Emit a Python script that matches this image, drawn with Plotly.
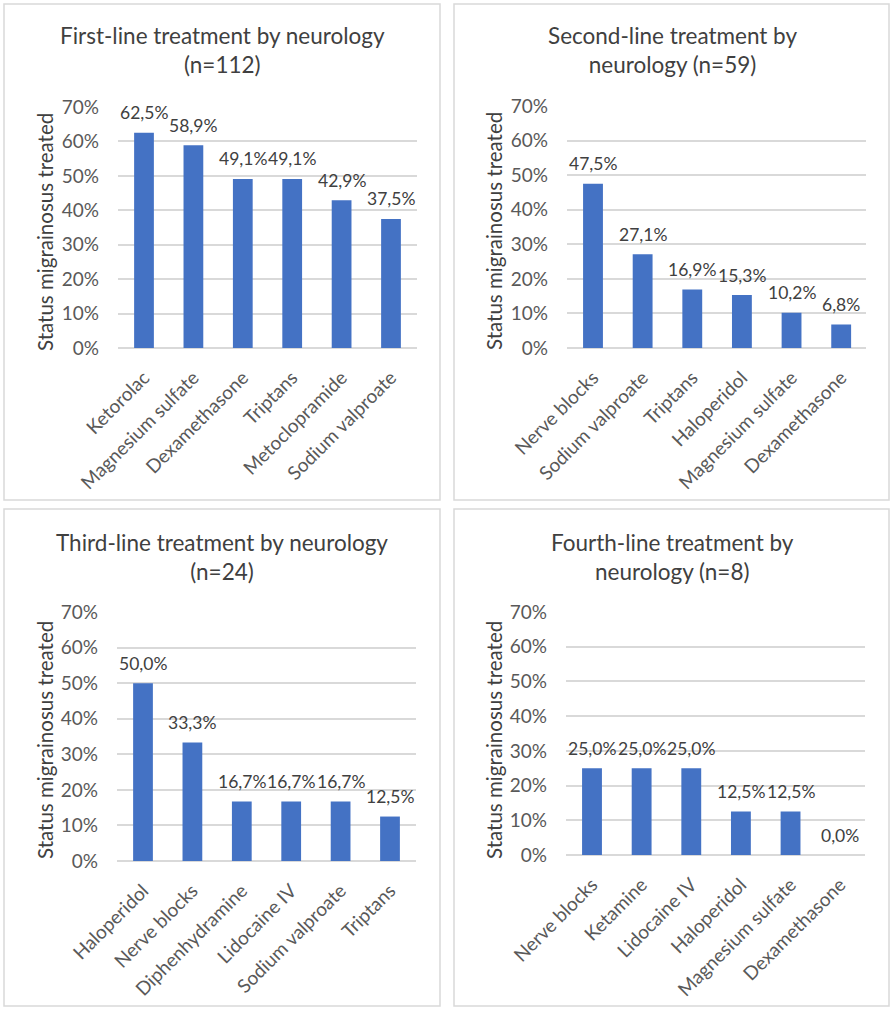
import plotly.graph_objects as go

# ---------------- data ----------------
titles = [
    "First-line treatment by neurology<br>(n=112)",
    "Second-line treatment by<br>neurology (n=59)",
    "Third-line treatment by neurology<br>(n=24)",
    "Fourth-line treatment by<br>neurology (n=8)",
]
cats1 = ["Ketorolac", "Magnesium sulfate", "Dexamethasone", "Triptans", "Metoclopramide", "Sodium valproate"]
vals1 = [62.5, 58.9, 49.1, 49.1, 42.9, 37.5]
cats2 = ["Nerve blocks", "Sodium valproate", "Triptans", "Haloperidol", "Magnesium sulfate", "Dexamethasone"]
vals2 = [47.5, 27.1, 16.9, 15.3, 10.2, 6.8]
cats3 = ["Haloperidol", "Nerve blocks", "Diphenhydramine", "Lidocaine IV", "Sodium valproate", "Triptans"]
vals3 = [50.0, 33.3, 16.7, 16.7, 16.7, 12.5]
cats4 = ["Nerve blocks", "Ketamine", "Lidocaine IV", "Haloperidol", "Magnesium sulfate", "Dexamethasone"]
vals4 = [25.0, 25.0, 25.0, 12.5, 12.5, 0.0]
y_title = "Status migrainosus treated"
y_ticks = [0, 10, 20, 30, 40, 50, 60, 70]
y_ticktext = [f"{v}%" for v in y_ticks]

# ---------------- layout geometry (pixels) ----------------
W, H = 894, 1013
FONT = "Lato"
BAR = "#4472C4"
GRID = "#D9D9D9"

panels = [
    dict(cats=cats1, vals=vals1, box=(4, 4, 440, 500), plot=(118, 417, 107, 348),
         title_xy=(222, 50), ytitle_xy=(45, 232)),
    dict(cats=cats2, vals=vals2, box=(454, 4, 889, 500), plot=(567, 866, 106, 348),
         title_xy=(672, 50), ytitle_xy=(494, 231)),
    dict(cats=cats3, vals=vals3, box=(4, 509, 440, 1006), plot=(117, 416, 612, 861),
         title_xy=(222, 557), ytitle_xy=(45, 740)),
    dict(cats=cats4, vals=vals4, box=(454, 509, 889, 1006), plot=(566, 865, 612, 855),
         title_xy=(672, 557), ytitle_xy=(494, 740)),
]

def px(x):
    return x / W

def py(y):
    return 1 - y / H

fig = go.Figure()
shapes = []
annotations = []
layout_axes = {}

for i, p in enumerate(panels):
    n = "" if i == 0 else str(i + 1)
    xa, ya = "x" + n, "y" + n
    fig.add_trace(go.Bar(
        x=p["cats"], y=p["vals"], xaxis=xa, yaxis=ya,
        marker=dict(color=BAR, line=dict(width=0)),
        showlegend=False, hoverinfo="x+y",
    ))
    x0, x1, y0, y1 = p["plot"]
    layout_axes["xaxis" + n] = dict(
        domain=[px(x0), px(x1)], anchor=ya, type="category", automargin=False,
        tickangle=-45, showgrid=False, zeroline=False, showline=False,
        ticks="", ticklabelstandoff=14,
        tickfont=dict(family=FONT, size=19, color="#595959"),
        fixedrange=True,
    )
    layout_axes["yaxis" + n] = dict(
        domain=[py(y1), py(y0)], anchor=xa, range=[0, 70], automargin=False,
        tickmode="array", tickvals=y_ticks, ticktext=y_ticktext,
        showgrid=True, gridcolor=GRID, gridwidth=1.5,
        zeroline=True, zerolinecolor=GRID, zerolinewidth=1.5,
        showline=False, ticks="", ticklabelstandoff=18,
        tickfont=dict(family=FONT, size=19, color="#595959"),
        fixedrange=True,
    )
    bx0, by0, bx1, by1 = p["box"]
    shapes.append(dict(type="rect", xref="paper", yref="paper",
                       x0=px(bx0), x1=px(bx1), y0=py(by1), y1=py(by0),
                       line=dict(color=GRID, width=1.5), fillcolor="rgba(0,0,0,0)"))
    tx, ty = p["title_xy"]
    annotations.append(dict(text=titles[i], xref="paper", yref="paper",
                            x=px(tx), y=py(ty), xanchor="center", yanchor="middle",
                            showarrow=False,
                            font=dict(family=FONT, size=22.5, color="#404040")))
    ax_, ay_ = p["ytitle_xy"]
    annotations.append(dict(text=y_title, xref="paper", yref="paper",
                            x=px(ax_), y=py(ay_), xanchor="center", yanchor="middle",
                            textangle=-90, showarrow=False,
                            font=dict(family=FONT, size=20.5, color="#404040")))
    for c, v in zip(p["cats"], p["vals"]):
        annotations.append(dict(text=f"{v:.1f}%".replace(".", ","),
                                xref=xa, yref=ya, x=c, y=v, yshift=20,
                                xanchor="center", yanchor="middle", showarrow=False,
                                font=dict(family=FONT, size=17.5, color="#404040")))

fig.update_layout(
    width=W, height=H, margin=dict(l=0, r=0, t=0, b=0, autoexpand=False),
    paper_bgcolor="white", plot_bgcolor="white",
    bargap=0.6, shapes=shapes, annotations=annotations,
    **layout_axes,
)

fig.write_html("out.html",
               config={"displayModeBar": False},
               post_script="document.body.style.margin='0';document.body.style.overflow='hidden';")
